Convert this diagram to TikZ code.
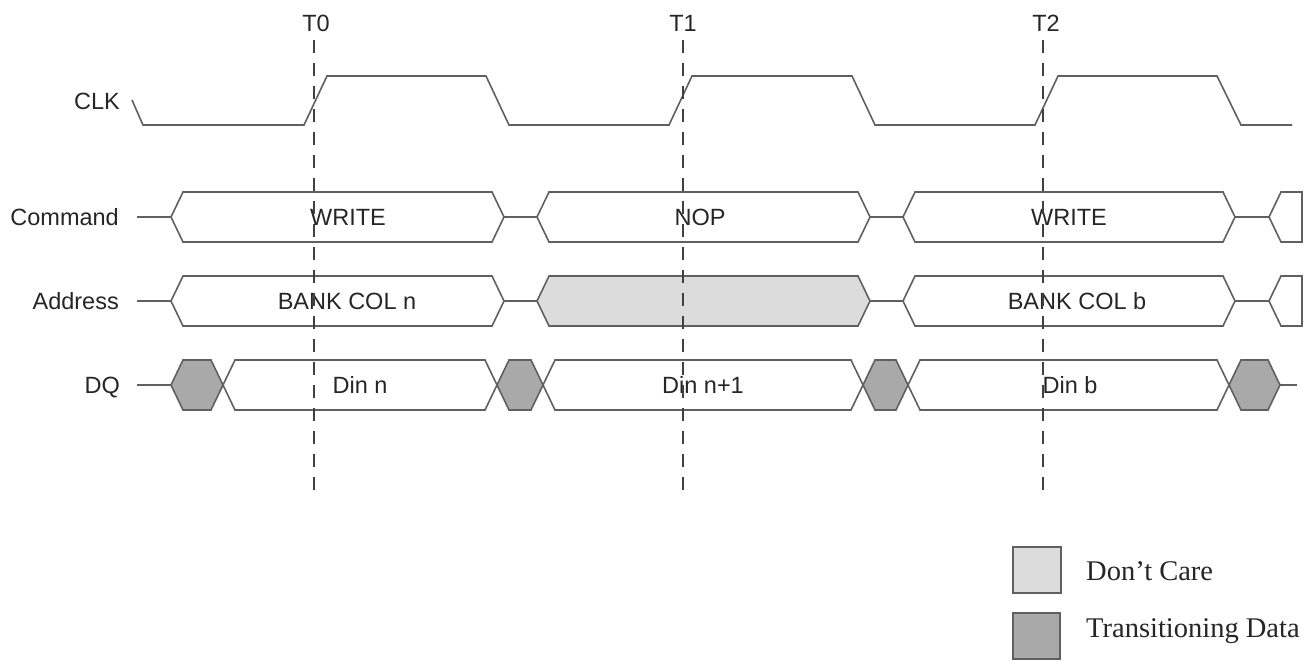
\documentclass[tikz,border=0pt]{standalone}
\usepackage{fontspec}
\setmainfont{Liberation Serif}
\newfontfamily\labfont{Liberation Sans}
\definecolor{lc}{HTML}{606060}
\definecolor{dcfill}{HTML}{DCDCDC}
\definecolor{trfill}{HTML}{A9A9A9}
\newcommand\bushex[4]{% left x, right x, mid y, style
  \draw[#4] (#1,#3) -- ({#1+12},{#3-25}) -- ({#2-12},{#3-25}) -- (#2,#3) -- ({#2-12},{#3+25}) -- ({#1+12},{#3+25}) -- cycle;}
\begin{document}
\begin{tikzpicture}[x=1pt,y=-1pt,
  sig/.style={draw=lc,line width=1.6pt,line join=miter},
  databus/.style={sig,fill=white},
  dcbus/.style={sig,fill=dcfill},
  trbus/.style={sig,fill=trfill},
  tline/.style={draw=black!75,line width=1.1pt,dash pattern=on 13pt off 10pt},
  lab/.style={font=\labfont\fontsize{23.5}{28}\selectfont,inner sep=0pt,text=black!85},
  leg/.style={font=\fontsize{28.5}{34}\selectfont,inner sep=0pt,anchor=base west,text=black!85}]
\useasboundingbox (0,0) rectangle (1309,661);
\fill[white] (0,0) rectangle (1309,661);
% clock
\draw[sig] (132,100) -- (143,125) -- (304,125) -- (327,76) -- (486,76) -- (509,125) -- (669,125) -- (692,76) -- (852,76) -- (875,125) -- (1035,125) -- (1058,76) -- (1217,76) -- (1241,125) -- (1292,125);
% command
\draw[sig] (137,217) -- (171,217);
\bushex{171}{504}{217}{databus}
\draw[sig] (504,217) -- (537,217);
\bushex{537}{870}{217}{databus}
\draw[sig] (870,217) -- (903,217);
\bushex{903}{1235}{217}{databus}
\draw[sig] (1235,217) -- (1269,217);
\draw[databus] (1269,217) -- (1281,192) -- (1302,192) -- (1302,242) -- (1281,242) -- cycle;
% address
\draw[sig] (137,301) -- (171,301);
\bushex{171}{504}{301}{databus}
\draw[sig] (504,301) -- (537,301);
\bushex{537}{870}{301}{dcbus}
\draw[sig] (870,301) -- (903,301);
\bushex{903}{1235}{301}{databus}
\draw[sig] (1235,301) -- (1269,301);
\draw[databus] (1269,301) -- (1281,276) -- (1302,276) -- (1302,326) -- (1281,326) -- cycle;
% DQ
\draw[sig] (137,385) -- (171,385);
\bushex{171}{223}{385}{trbus}
\bushex{223}{497}{385}{databus}
\bushex{497}{543}{385}{trbus}
\bushex{543}{863}{385}{databus}
\bushex{863}{908}{385}{trbus}
\bushex{908}{1229}{385}{databus}
\bushex{1229}{1280}{385}{trbus}
\draw[sig] (1280,385) -- (1297,385);
% row labels
\node[lab,anchor=base east] (lclk) at (120,109.5) {CLK};
\node[lab,anchor=base east] (lcmd) at (119,225.5) {Command};
\node[lab,anchor=base east] (ladr) at (119,309.5) {Address};
\node[lab,anchor=base east] (ldq) at (120,393.5) {DQ};
% bus texts
\node[lab,anchor=base] (c1) at (348,225.5) {WRITE};
\node[lab,anchor=base] (c2) at (700,225.5) {NOP};
\node[lab,anchor=base] (c3) at (1069,225.5) {WRITE};
\node[lab,anchor=base] (a1) at (347,309.5) {BANK COL n};
\node[lab,anchor=base] (a3) at (1077,309.5) {BANK COL b};
\node[lab,anchor=base] (d1) at (360,393.5) {Din n};
\node[lab,anchor=base] (d2) at (703,393.5) {Din n+1};
\node[lab,anchor=base] (d3) at (1070,393.5) {Din b};
% time markers
\node[lab,anchor=base] (t0) at (316,31.5) {T0};
\node[lab,anchor=base] (t1) at (683,31.5) {T1};
\node[lab,anchor=base] (t2) at (1046,31.5) {T2};
\coordinate (e0) at (314,492);
\coordinate (e1) at (683,492);
\coordinate (e2) at (1043,492);
\draw[tline] (314,40) -- (e0);
\draw[tline] (683,40) -- (e1);
\draw[tline] (1043,40) -- (e2);
% legend
\draw[draw=lc,line width=1.4pt,fill=dcfill] (1013,547) rectangle (1061,593);
\draw[draw=lc,line width=1.4pt,fill=trfill] (1013,613) rectangle (1060,659);
\node[leg] (ldc) at (1086,580) {Don’t Care};
\node[leg] (ltr) at (1086,637) {Transitioning Data};
\end{tikzpicture}
\end{document}
